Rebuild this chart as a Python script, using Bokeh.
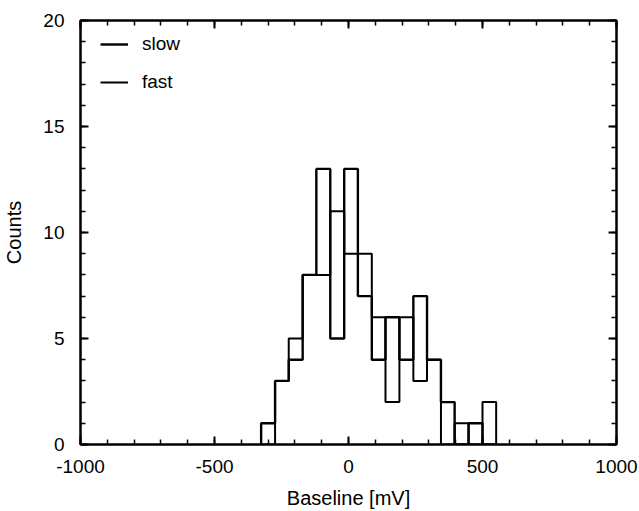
from bokeh.plotting import figure
from bokeh.models import LinearAxis, SingleIntervalTicker, Legend, LegendItem, Range1d, PrintfTickFormatter
from bokeh.embed import file_html
from bokeh.resources import INLINE

# ---- data ----
bin_edges = [-326, -274, -223, -171, -120, -68, -16, 35, 87, 138, 190,
             242, 293, 345, 396, 448, 500, 551]
slow_counts = [1, 3, 4, 8, 13, 5, 13, 7, 4, 6, 4, 7, 4, 2, 0, 1, 0]
fast_counts = [0, 3, 5, 8, 8, 11, 9, 9, 6, 2, 6, 3, 4, 0, 1, 0, 2]
series_names = ["slow", "fast"]
x_limits = (-1000, 1000)
y_limits = (0, 20)
x_tick_interval = 500
y_tick_interval = 5

FONT = "Liberation Sans"

p = figure(width=639, height=511, output_backend="svg", toolbar_location=None,
           x_range=Range1d(*x_limits), y_range=Range1d(*y_limits),
           x_axis_location=None, y_axis_location=None,
           min_border_left=78, min_border_right=23, min_border_top=20,
           min_border_bottom=65)
p.xgrid.visible = False
p.ygrid.visible = False
p.outline_line_color = "black"
p.outline_line_width = 2
p.background_fill_color = "white"
p.border_fill_color = "white"


def style_axis(ax, labels=True):
    ax.axis_line_color = "black"
    ax.axis_line_width = 2
    ax.major_tick_in = 8
    ax.major_tick_out = 0
    ax.minor_tick_in = 5
    ax.minor_tick_out = 0
    ax.major_tick_line_width = 2
    ax.minor_tick_line_width = 1.5
    ax.major_tick_line_color = "black"
    ax.minor_tick_line_color = "black"
    if labels:
        ax.formatter = PrintfTickFormatter(format="%d")
        ax.major_label_text_font = FONT
        ax.major_label_text_font_size = "19px"
        ax.major_label_text_color = "black"
        ax.axis_label_text_font = FONT
        ax.axis_label_text_font_size = "20px"
        ax.axis_label_text_font_style = "normal"
        ax.axis_label_text_color = "black"
    else:
        ax.major_label_text_font_size = "1px"
        ax.major_label_text_color = None
        ax.major_label_standoff = 0
        ax.axis_label = None


xt = SingleIntervalTicker(interval=x_tick_interval, num_minor_ticks=5)
yt = SingleIntervalTicker(interval=y_tick_interval, num_minor_ticks=5)

xb = LinearAxis(ticker=xt, axis_label="Baseline [mV]")
style_axis(xb)
xb.major_label_standoff = 15
xb.axis_label_standoff = 11
p.add_layout(xb, "below")

yl = LinearAxis(ticker=yt, axis_label="Counts")
style_axis(yl)
yl.major_label_standoff = 16
yl.axis_label_standoff = 15
p.add_layout(yl, "left")

xa = LinearAxis(ticker=xt)
style_axis(xa, labels=False)
p.add_layout(xa, "above")

yr = LinearAxis(ticker=yt)
style_axis(yr, labels=False)
p.add_layout(yr, "right")

# ---- histograms as step outlines ----
step_x = [bin_edges[0]] + bin_edges
r_slow = p.step(x=step_x, y=[0] + slow_counts + [0], mode="after",
                line_color="black", line_width=2.4)
r_fast = p.step(x=step_x, y=[0] + fast_counts + [0], mode="after",
                line_color="black", line_width=2.0)

legend = Legend(items=[LegendItem(label=series_names[0], renderers=[r_slow]),
                       LegendItem(label=series_names[1], renderers=[r_fast])],
                location=(20, 351))
legend.padding = 0
legend.margin = 0
legend.spacing = 16
legend.glyph_width = 28
legend.glyph_height = 20
legend.label_height = 20
legend.label_standoff = 14
legend.label_text_font = FONT
legend.label_text_font_size = "19px"
legend.label_text_color = "black"
legend.border_line_color = None
legend.background_fill_alpha = 0
p.add_layout(legend, "center")

open("out.html", "w").write(file_html(p, INLINE))
